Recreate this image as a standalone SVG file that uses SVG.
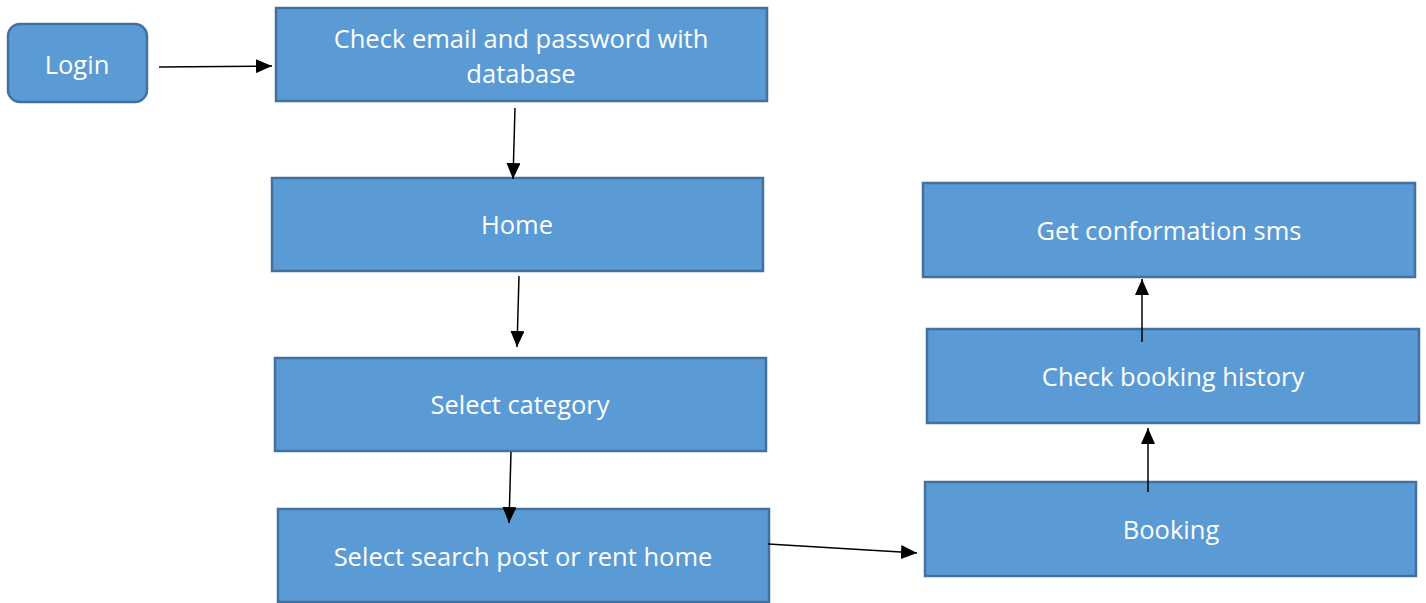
<svg xmlns="http://www.w3.org/2000/svg" width="1426" height="603" viewBox="0 0 1426 603">
<style>
.box{fill:#5B9BD5;stroke:#41719C;stroke-width:2.5}
.t{fill:#fff;font-family:"Open Sans","Liberation Sans",sans-serif;font-size:25.5px;text-anchor:middle;dominant-baseline:central}
.c{stroke:#000;stroke-width:1.5;fill:none;marker-end:url(#ah)}
</style>
<defs>
<marker id="ah" viewBox="0 0 16 14" refX="16" refY="7" markerWidth="16" markerHeight="14" markerUnits="userSpaceOnUse" orient="auto">
<path d="M0,0 L16,7 L0,14 z" fill="#000"/>
</marker>
</defs>
<rect width="1426" height="603" fill="#fff"/>
<g id="login"><rect class="box" x="8" y="24" width="139" height="78" rx="12"/><text class="t" x="77" y="64">Login</text></g>
<g id="check"><rect class="box" x="276" y="8" width="491" height="93"/><text class="t" x="521" y="38">Check email and password with</text><text class="t" x="521" y="73">database</text></g>
<g id="home"><rect class="box" x="272" y="178" width="491" height="93"/><text class="t" x="517" y="224">Home</text></g>
<g id="category"><rect class="box" x="275" y="358" width="491" height="93"/><text class="t" x="520" y="404">Select category</text></g>
<g id="search"><rect class="box" x="278" y="509" width="491" height="93"/><text class="t" x="523" y="556">Select search post or rent home</text></g>
<g id="sms"><rect class="box" x="923" y="183" width="492" height="94"/><text class="t" x="1169" y="230">Get conformation sms</text></g>
<g id="history"><rect class="box" x="927" y="329" width="492" height="94"/><text class="t" x="1173" y="376">Check booking history</text></g>
<g id="booking"><rect class="box" x="925" y="482" width="491" height="94"/><text class="t" x="1171" y="529">Booking</text></g>
<g id="connectors">
<path class="c" d="M159,67 L272,66"/>
<path class="c" d="M515,108 L513,179"/>
<path class="c" d="M519,276 L517,347"/>
<path class="c" d="M511,452 L509,523"/>
<path class="c" d="M768,544 L917,553"/>
<path class="c" d="M1148,492 L1148,428"/>
<path class="c" d="M1142,342 L1142,279"/>
</g>
</svg>
